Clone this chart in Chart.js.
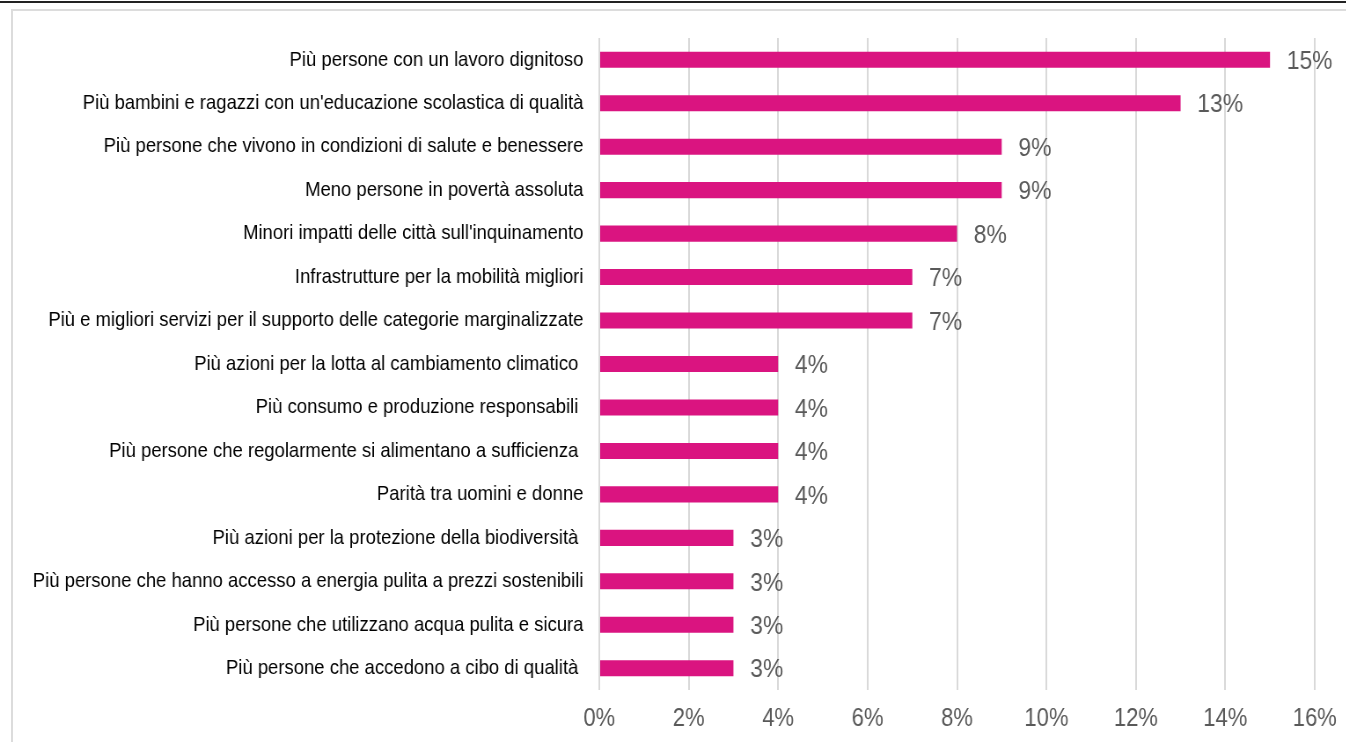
<!DOCTYPE html>
<html lang="it">
<head>
<meta charset="UTF-8">
<title>Obiettivi</title>
<script src="https://cdn.jsdelivr.net/npm/chart.js"></script>
<style>
    html, body { margin: 0; padding: 0; background: #fff; }
    .page { position: relative; width: 1346px; height: 742px; overflow: hidden; }
    .topline { position: absolute; left: 0; top: 1px; width: 1346px; height: 2px; background: #222; }
    .frame { position: absolute; left: 11px; top: 9px; width: 1400px; height: 800px; border: 2px solid #dcdcdc; box-sizing: border-box; }
    /* the original picture is slightly squeezed horizontally */
    canvas { position: absolute; left: 0; top: 0; transform: scaleX(0.88); transform-origin: 0 0; }
</style>
</head>
<body>
<div class="page">
    <div class="topline"></div>
    <div class="frame"></div>
    <canvas id="chart" width="1530" height="742"></canvas>
</div>
<script>
// categorie (alcune etichette hanno uno spazio finale, come nell'originale)
const categories = [
    'Più persone con un lavoro dignitoso',
    "Più bambini e ragazzi con un'educazione scolastica di qualità",
    'Più persone che vivono in condizioni di salute e benessere',
    'Meno persone in povertà assoluta',
    "Minori impatti delle città sull'inquinamento",
    'Infrastrutture per la mobilità migliori',
    'Più e migliori servizi per il supporto delle categorie marginalizzate',
    'Più azioni per la lotta al cambiamento climatico ',
    'Più consumo e produzione responsabili ',
    'Più persone che regolarmente si alimentano a sufficienza ',
    'Parità tra uomini e donne',
    'Più azioni per la protezione della biodiversità ',
    'Più persone che hanno accesso a energia pulita a prezzi sostenibili',
    'Più persone che utilizzano acqua pulita e sicura',
    'Più persone che accedono a cibo di qualità '
];
const values = [15, 13, 9, 9, 8, 7, 7, 4, 4, 4, 4, 3, 3, 3, 3];
const xTicks = [0, 2, 4, 6, 8, 10, 12, 14, 16];

const FONT = '"Liberation Sans", Arial, sans-serif';

// etichette valore a destra delle barre
const valueLabels = {
    id: 'valueLabels',
    afterDatasetsDraw(chart) {
        const ctx = chart.ctx;
        const meta = chart.getDatasetMeta(0);
        ctx.save();
        ctx.font = '26px ' + FONT;
        ctx.fillStyle = '#595959';
        ctx.textAlign = 'left';
        ctx.textBaseline = 'middle';
        meta.data.forEach((bar, i) => {
            ctx.fillText(values[i] + '%', bar.x + 19, bar.y + 2);
        });
        ctx.restore();
    }
};

new Chart(document.getElementById('chart').getContext('2d'), {
    type: 'bar',
    data: {
        labels: categories,
        datasets: [{
            data: values,
            backgroundColor: '#da1480',
            borderWidth: 0,
            barPercentage: 0.74,
            categoryPercentage: 0.5
        }]
    },
    options: {
        indexAxis: 'y',
        responsive: false,
        animation: false,
        layout: { padding: { top: 38, right: 36, bottom: 0, left: 0 } },
        plugins: { legend: { display: false }, tooltip: { enabled: false } },
        scales: {
            x: {
                min: 0,
                max: 16,
                afterBuildTicks(axis) { axis.ticks = xTicks.map(v => ({ value: v })); },
                afterFit(axis) { axis.height = 52; axis.paddingLeft = 0; axis.paddingRight = 0; },
                grid: { color: '#d9d9d9', lineWidth: 2, drawTicks: false },
                border: { display: false },
                ticks: {
                    padding: 14,
                    maxRotation: 0,
                    color: '#595959',
                    font: { size: 25, family: FONT },
                    callback: v => v + '%'
                }
            },
            y: {
                afterFit(axis) { axis.width = 681; },
                grid: { display: false, drawTicks: false },
                border: { display: false },
                ticks: {
                    padding: 18,
                    color: '#000',
                    font: { size: 21, family: FONT }
                }
            }
        }
    },
    plugins: [valueLabels]
});
</script>
</body>
</html>
